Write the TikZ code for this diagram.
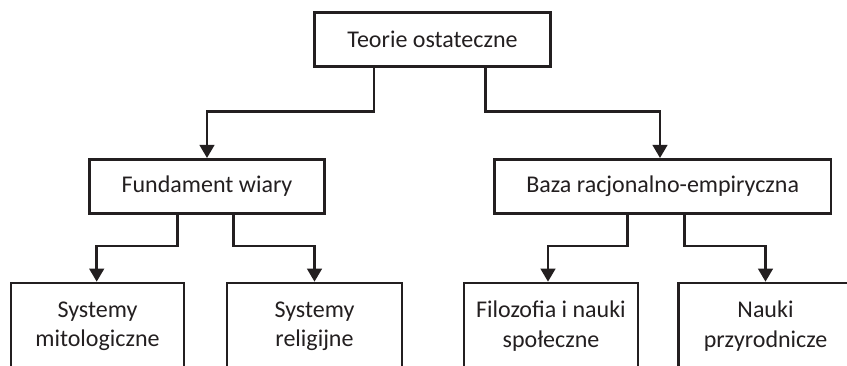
\documentclass[tikz,border=0pt]{standalone}
\usepackage{fontspec}
\setmainfont{Carlito}
\usetikzlibrary{arrows.meta}
\definecolor{ink}{HTML}{231F20}
\begin{document}
\begin{tikzpicture}[x=1pt,y=1pt,
  box/.style={draw=ink, line width=2.6pt, inner sep=0pt, text=ink, font=\fontsize{24}{29}\selectfont, align=center},
  txt/.style={inner sep=0pt, text=ink, font=\fontsize{24}{29.5}\selectfont, align=center},
  arr/.style={draw=ink, line width=2.6pt, -{Triangle[width=14.5pt,length=13pt]}}]
\useasboundingbox (0,0) rectangle (847,-366);
\clip (0,0) rectangle (847,-366);
\fill[white] (0,0) rectangle (847,-366);
\node[box, minimum width=236pt, minimum height=54pt] (top) at (432.5,-39.5) {Teorie ostateczne};
\node[box, minimum width=235pt, minimum height=54pt] (fund) at (207,-186.3) {Fundament wiary};
\node[box, minimum width=336.5pt, minimum height=54pt] (baza) at (662.7,-186.3) {Baza racjonalno-empiryczna};
\node[box, minimum width=173pt, minimum height=120pt] (b1) at (97.5,-343) {};
\node[box, minimum width=175pt, minimum height=120pt] (b2) at (314.5,-343) {};
\node[box, minimum width=174pt, minimum height=120pt] (b3) at (551,-343) {};
\node[box, minimum width=174pt, minimum height=120pt] (b4) at (765.5,-343) {};
\node[txt] (t1) at ([yshift=-44.5pt]b1.north) {Systemy\\mitologiczne};
\node[txt] (t2) at ([yshift=-44.5pt]b2.north) {Systemy\\religijne};
\node[txt] (t3) at ([yshift=-44.5pt]b3.north) {Filozofia i nauki\\społeczne};
\node[txt] (t4) at ([yshift=-44.5pt]b4.north) {Nauki\\przyrodnicze};
\draw[arr] ([xshift=-58.5pt]top.south) -- ++(0,-44) -| (fund.north);
\draw[arr] ([xshift=53pt]top.south) -- ++(0,-44) -| ([xshift=-2.7pt]baza.north);
\draw[arr] ([xshift=-29.3pt]fund.south) -- ++(0,-31.5) -| ([xshift=-0.8pt]b1.north);
\draw[arr] ([xshift=26.3pt]fund.south) -- ++(0,-31.5) -| (b2.north);
\draw[arr] ([xshift=-35pt]baza.south) -- ++(0,-31.5) -| ([xshift=-3pt]b3.north);
\draw[arr] ([xshift=21.6pt]baza.south) -- ++(0,-31.5) -| (b4.north);
\end{tikzpicture}
\end{document}
